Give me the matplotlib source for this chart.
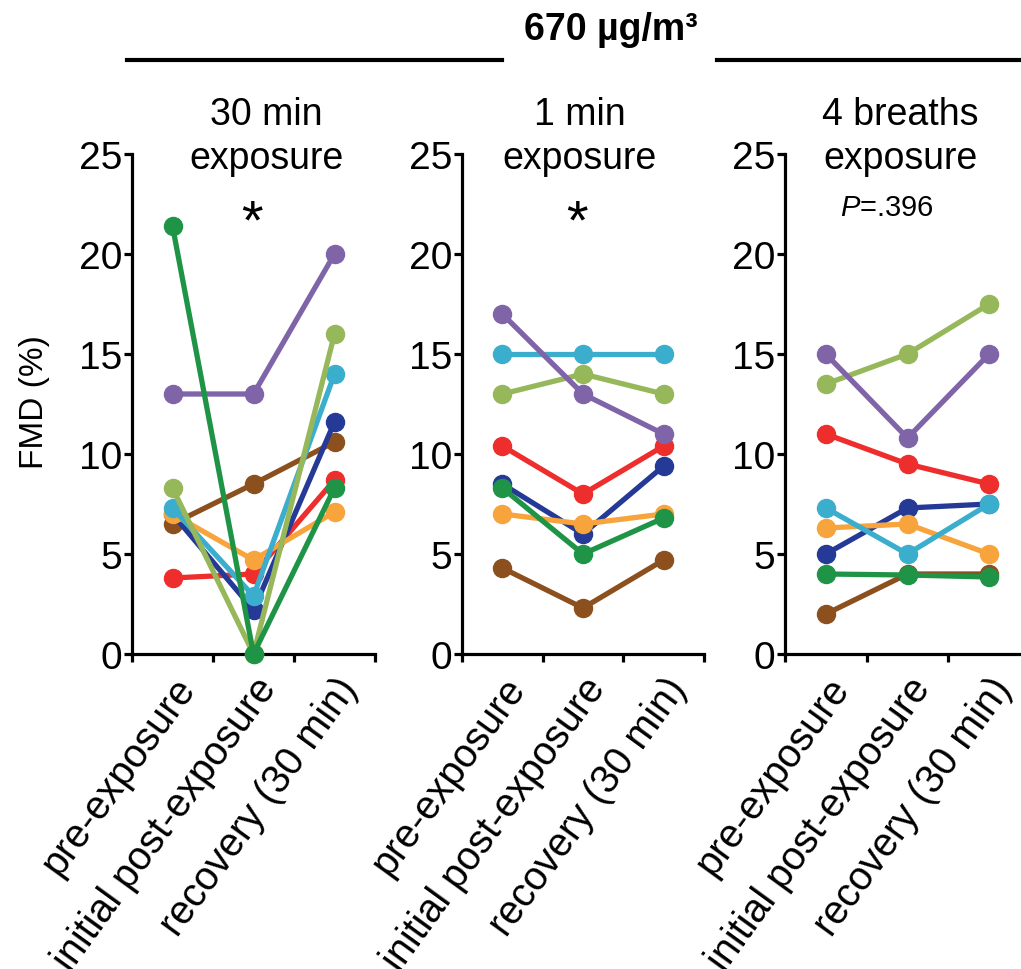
import numpy as np
import matplotlib
matplotlib.use("Agg")
import matplotlib.pyplot as plt
import matplotlib.transforms as mtransforms
from matplotlib.lines import Line2D

plt.rcParams['font.family'] = ['Liberation Sans', 'DejaVu Sans']
plt.rcParams['mathtext.fontset'] = 'custom'
plt.rcParams['mathtext.it'] = 'Liberation Sans:italic'
plt.rcParams['mathtext.rm'] = 'Liberation Sans'

# time points
conditions = ['pre-exposure', 'initial post-exposure', 'recovery (30 min)']
panel_titles = ['30 min\nexposure', '1 min\nexposure', '4 breaths\nexposure']
header = '670 µg/m³'

# one colour per subject (drawing order)
subjects = ['brown', 'red', 'blue', 'orange', 'cyan', 'lightgreen', 'purple', 'darkgreen']
colors = {'brown': '#8C501E', 'red': '#EE2D2D', 'blue': '#243A96', 'orange': '#F7A43C',
          'cyan': '#3CAECD', 'lightgreen': '#96B85A', 'purple': '#8064A8', 'darkgreen': '#1F9447'}

# FMD (%) values: pre, initial post, recovery
fmd_30min = {'brown': [6.5, 8.5, 10.6], 'red': [3.8, 4.0, 8.7], 'blue': [7.0, 2.2, 11.6],
             'orange': [7.0, 4.7, 7.1], 'cyan': [7.3, 2.9, 14.0], 'lightgreen': [8.3, 0.0, 16.0],
             'purple': [13.0, 13.0, 20.0], 'darkgreen': [21.4, 0.0, 8.3]}
fmd_1min = {'brown': [4.3, 2.3, 4.7], 'red': [10.4, 8.0, 10.4], 'blue': [8.5, 6.0, 9.4],
            'orange': [7.0, 6.5, 7.0], 'cyan': [15.0, 15.0, 15.0], 'lightgreen': [13.0, 14.0, 13.0],
            'purple': [17.0, 13.0, 11.0], 'darkgreen': [8.3, 5.0, 6.8]}
fmd_4breaths = {'brown': [2.0, 4.0, 4.0], 'red': [11.0, 9.5, 8.5], 'blue': [5.0, 7.3, 7.5],
                'orange': [6.3, 6.5, 5.0], 'cyan': [7.3, 5.0, 7.5], 'lightgreen': [13.5, 15.0, 17.5],
                'purple': [15.0, 10.8, 15.0], 'darkgreen': [4.0, 3.95, 3.85]}
panels = [fmd_30min, fmd_1min, fmd_4breaths]
annotations = ['*', '*', '$\\it{P}$=.396']

W, H = 1021, 970
fig = plt.figure(figsize=(W / 100, H / 100), dpi=100)

# axes boxes in pixels: left, right
ax_px = [(132, 375), (462, 704), (785, 1030)]
y_top, y_bot = 155, 655
title_x = [266, 580, 900]

x = np.arange(3) + 0.5
offset = mtransforms.ScaledTranslation(0.15, -0.27, fig.dpi_scale_trans)

for k in range(3):
    l, r = ax_px[k]
    axes = fig.add_axes([l / W, 1 - y_bot / H, (r - l) / W, (y_bot - y_top) / H])
    data = panels[k]
    for s in subjects:
        axes.plot(x, data[s], '-o', color=colors[s], lw=3.8, ms=13, clip_on=False, zorder=3)
    axes.set_xlim(0, 3)
    axes.set_ylim(0, 25)
    axes.set_yticks([0, 5, 10, 15, 20, 25])
    axes.spines['top'].set_visible(False)
    axes.spines['right'].set_visible(False)
    for sp in ['left', 'bottom']:
        axes.spines[sp].set_linewidth(2.3)
    axes.tick_params(axis='y', labelsize=28, width=2.3, length=6, pad=1)
    axes.set_xticks([0, 1, 2, 3], minor=True)
    axes.tick_params(axis='x', which='minor', width=2.3, length=6)
    axes.set_xticks(x)
    axes.set_xticklabels(conditions, rotation=54, ha='right', va='center',
                         rotation_mode='anchor', fontsize=28.5)
    axes.tick_params(axis='x', which='major', length=0, pad=0)
    for lab in axes.get_xticklabels():
        lab.set_transform(lab.get_transform() + offset)

    fig.text(title_x[k] / W, 1 - 137 / H, panel_titles[k], ha='center', va='center',
             fontsize=27, linespacing=1.3)

fig.text(252 / W, 1 - 224 / H, annotations[0], ha='center', va='center', fontsize=40)
fig.text(577 / W, 1 - 224 / H, annotations[1], ha='center', va='center', fontsize=40)
fig.text(887 / W, 1 - 208 / H, annotations[2], ha='center', va='center', fontsize=21)

fig.text(35 / W, 1 - 402 / H, 'FMD (%)', rotation=90, ha='center', va='center', fontsize=24)

fig.text(611 / W, 1 - 30 / H, header, ha='center', va='center', fontsize=27, fontweight='bold')
fig.add_artist(Line2D([127 / W, 502 / W], [1 - 61 / H, 1 - 61 / H], color='black', lw=3))
fig.add_artist(Line2D([717 / W, 1.0], [1 - 61 / H, 1 - 61 / H], color='black', lw=3))

plt.savefig('out.png', dpi=100)
